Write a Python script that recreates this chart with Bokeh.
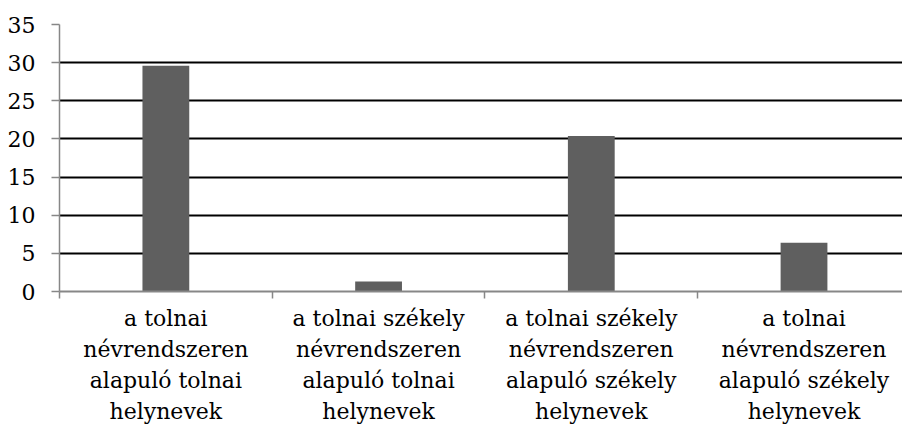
import numpy as np
from bokeh.plotting import figure
from bokeh.models import Range1d, FixedTicker
from bokeh.embed import file_html
from bokeh.resources import INLINE

# Data
categories = [
    "a tolnai\nnévrendszeren\nalapuló tolnai\nhelynevek",
    "a tolnai székely\nnévrendszeren\nalapuló tolnai\nhelynevek",
    "a tolnai székely\nnévrendszeren\nalapuló székely\nhelynevek",
    "a tolnai\nnévrendszeren\nalapuló székely\nhelynevek",
]
values = [29.6, 1.3, 20.4, 6.4]
y_ticks = [0, 5, 10, 15, 20, 25, 30, 35]

n = len(categories)
centers = [i + 0.5 for i in range(n)]
bounds = [float(i) for i in range(n + 1)]

FONT = "DejaVu Serif"

p = figure(
    width=902, height=427,
    output_backend="svg", toolbar_location=None,
    x_range=Range1d(0, 3.963), y_range=Range1d(0, 35),
    min_border_left=59, min_border_right=0, min_border_top=24, min_border_bottom=0,
)
p.outline_line_color = None
p.background_fill_color = "white"
p.border_fill_color = "white"

p.vbar(x=centers, top=values, width=0.22, fill_color="#5f5f5f", line_color=None)

# y axis
p.yaxis.ticker = FixedTicker(ticks=y_ticks)
p.yaxis.axis_line_color = "#878787"
p.yaxis.axis_line_width = 1.5
p.yaxis.major_tick_line_color = "#878787"
p.yaxis.major_tick_line_width = 1.5
p.yaxis.major_tick_out = 8
p.yaxis.major_tick_in = 0
p.yaxis.minor_tick_line_color = None
p.yaxis.major_label_standoff = 16
p.yaxis.major_label_text_font = FONT
p.yaxis.major_label_text_font_size = "22px"
p.yaxis.major_label_text_color = "#000000"

# x axis
p.xaxis.ticker = FixedTicker(ticks=centers, minor_ticks=bounds)
p.xaxis.major_label_overrides = {c: lab for c, lab in zip(centers, categories)}
p.xaxis.axis_line_color = "#878787"
p.xaxis.axis_line_width = 2
p.xaxis.major_tick_line_color = None
p.xaxis.major_tick_out = 0
p.xaxis.major_tick_in = 0
p.xaxis.minor_tick_line_color = "#878787"
p.xaxis.minor_tick_line_width = 1.5
p.xaxis.minor_tick_out = 7
p.xaxis.minor_tick_in = 0
p.xaxis.major_label_standoff = 7
p.xaxis.major_label_text_font = FONT
p.xaxis.major_label_text_font_size = "22px"
p.xaxis.major_label_text_line_height = 1.25
p.xaxis.major_label_text_color = "#000000"

# grid
p.xgrid.grid_line_color = None
p.ygrid.ticker = FixedTicker(ticks=y_ticks)
p.ygrid.grid_line_color = "#000000"
p.ygrid.grid_line_width = 1.8

open("out.html", "w").write(file_html(p, INLINE))
